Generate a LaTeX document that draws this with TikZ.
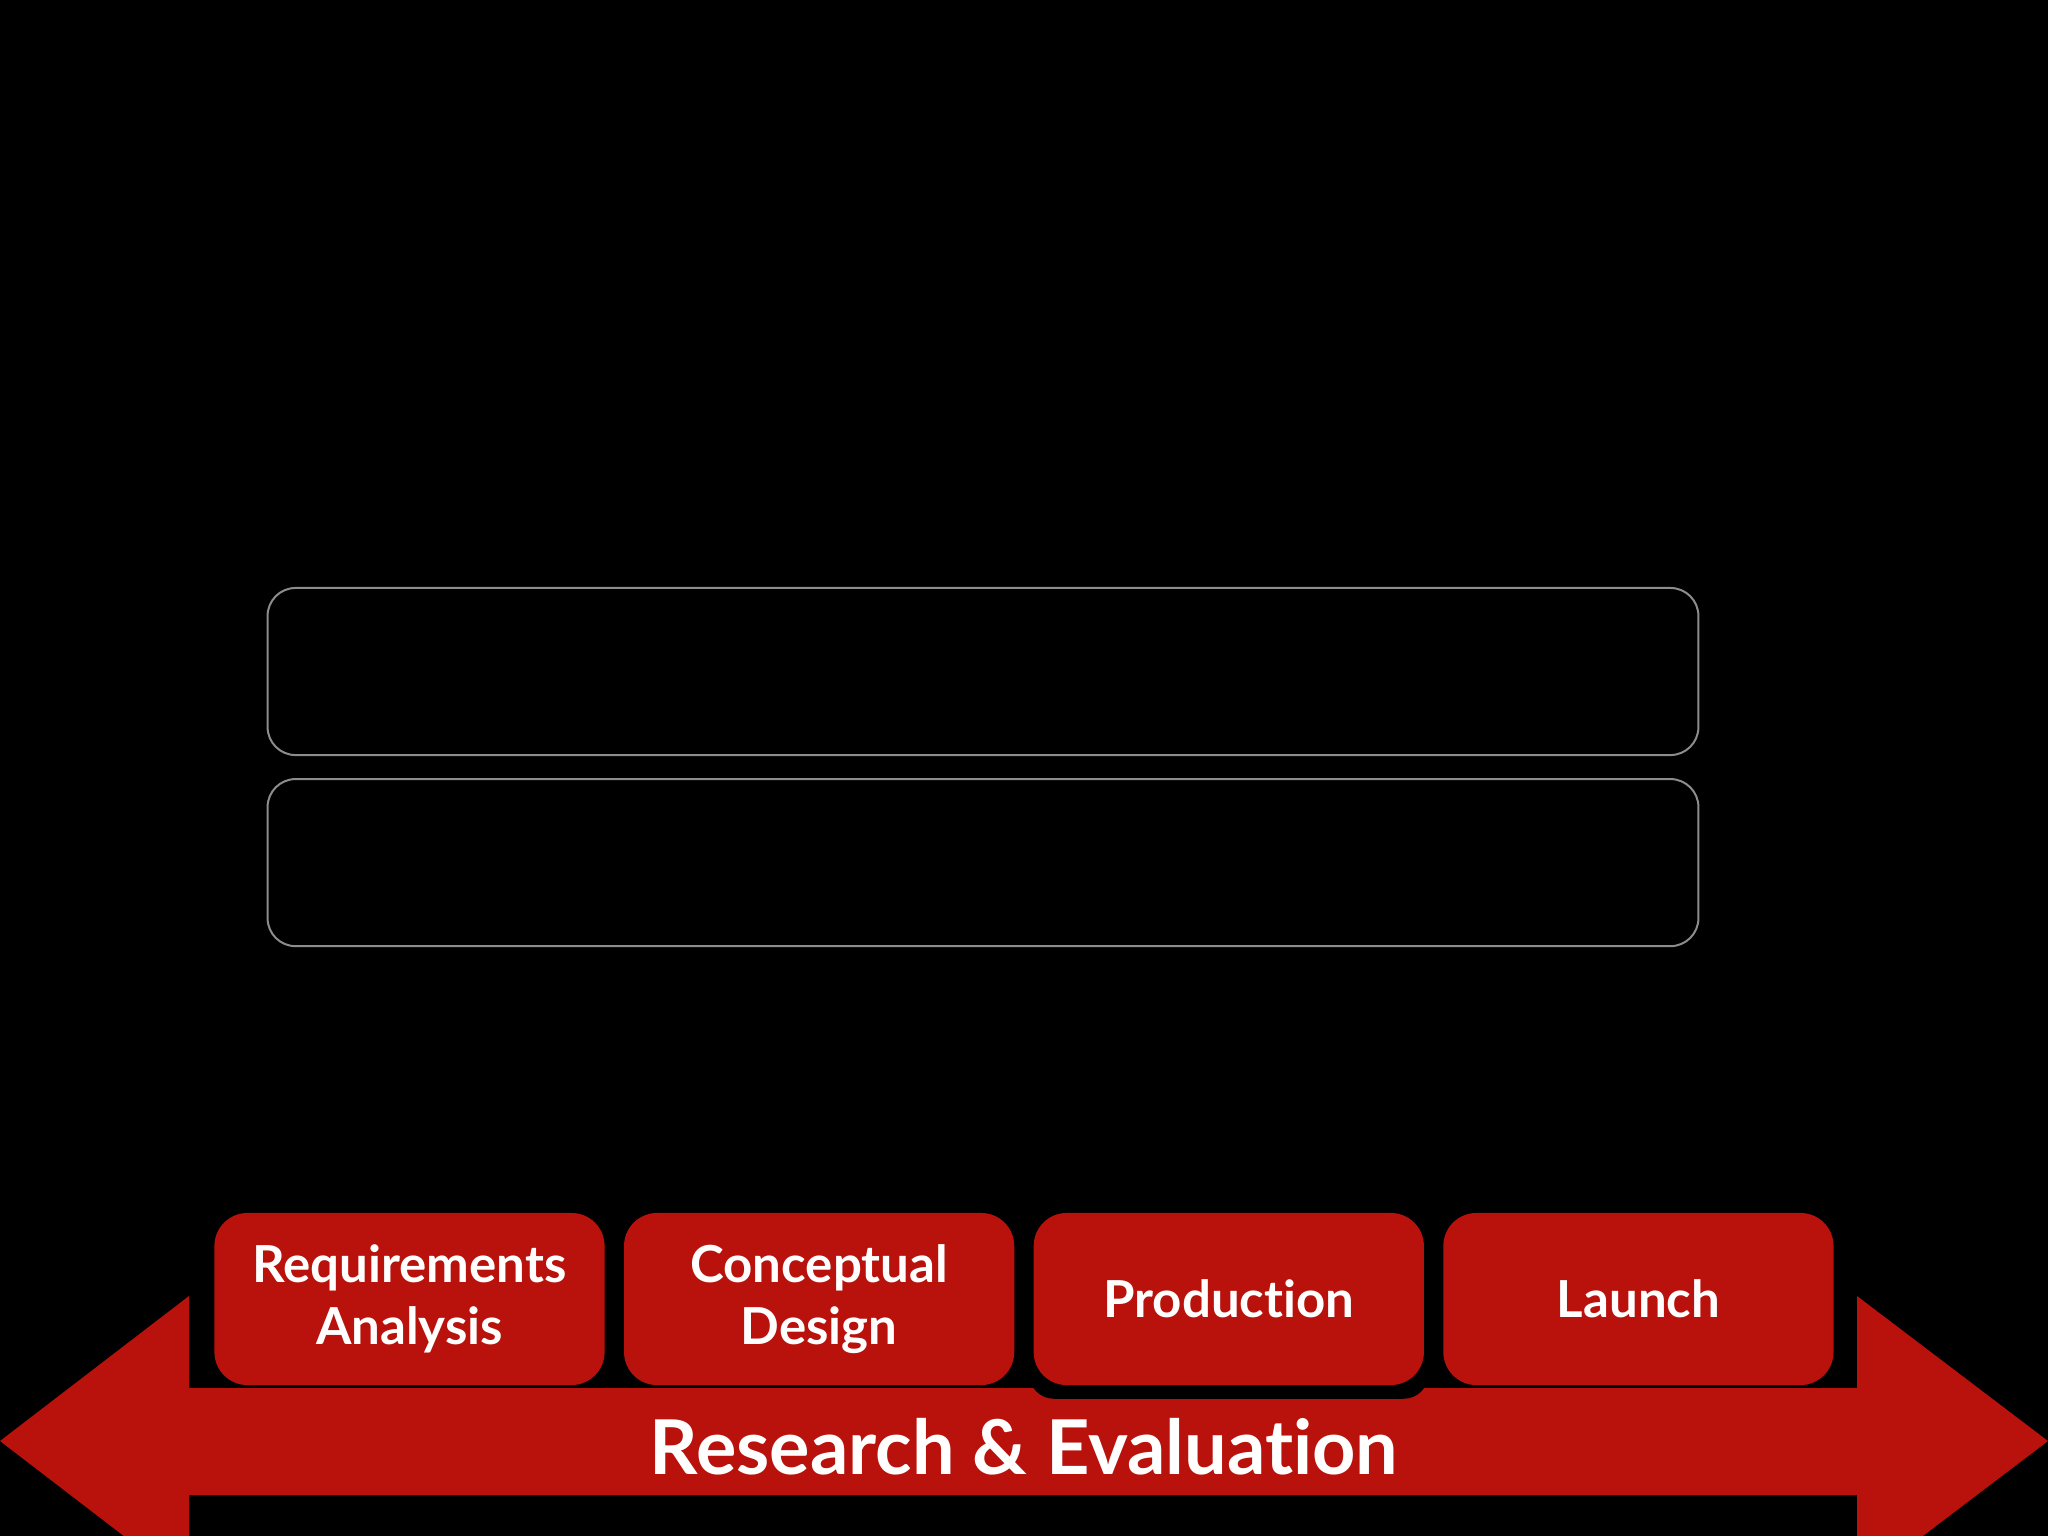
\documentclass[tikz,border=0pt]{standalone}
\usepackage{fontspec}
\setmainfont{Lato}[Ligatures={NoCommon,NoRare}]
\usetikzlibrary{positioning,calc,backgrounds}
\definecolor{slidered}{RGB}{185,18,12}
\definecolor{framegray}{RGB}{140,140,140}

\begin{document}
\begin{tikzpicture}[x=0.01cm, y=-0.01cm,
	phase/.style={fill=slidered, rounded corners=0.33cm, minimum width=3.9cm,
		minimum height=1.72cm, inner sep=0pt, align=center, text=white,
		font=\bfseries\fontsize{14.5}{17.5}\selectfont},
	panel/.style={draw=framegray, line width=0.02cm, rounded corners=0.28cm,
		minimum width=14.3cm, minimum height=1.67cm, inner sep=0pt}]

	% ---- page

	\useasboundingbox (0,0) rectangle (2048,1536);

	% ---- empty panels

	\node[panel] (panelA) at (983,671.5) {};
	\node[panel, below=0.22cm of panelA] (panelB) {};

	% ---- phases

	\node[phase] (req) at (409.5,1299) {Requirements\\Analysis};
	\node[phase, right=0.18cm of req] (concept) {Conceptual\\Design};
	\node[phase, right=0.18cm of concept] (prod) {Production};
	\node[phase, right=0.18cm of prod] (launch) {Launch};

	% ---- arrow label

	\node[text=white, font=\bfseries\fontsize{21.5}{25}\selectfont] (research)
		at (1024,1447) {Research \& Evaluation};

	% ---- background, double arrow, worn rim

	\begin{scope}[on background layer]
		\fill[black] (0,0) rectangle (2048,1536);
		\fill[slidered] (0,1441) -- (189,1296) -- (189,1388) -- (1857,1388)
			-- (1857,1296) -- (2048,1441) -- (1857,1586) -- (1857,1495)
			-- (189,1495) -- (189,1586) -- cycle;
		\fill[black, rounded corners=0.25cm] ($(prod.south west)+(-4,13)$)
			rectangle ($(prod.north east)+(4,-6)$);
	\end{scope}

\end{tikzpicture}
\end{document}
